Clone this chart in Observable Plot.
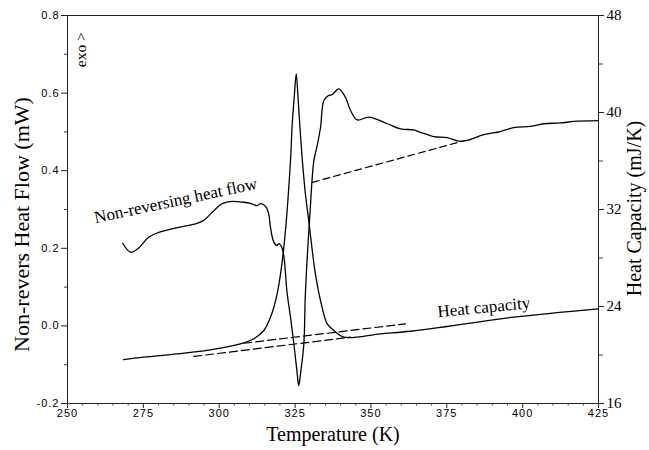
<!DOCTYPE html>
<html>
<head>
<meta charset="utf-8">
<script src="https://cdn.jsdelivr.net/npm/d3@7"></script>
<script src="https://cdn.jsdelivr.net/npm/@observablehq/plot@0.6"></script>
<style>
  html, body { margin: 0; padding: 0; background: #fff; }
  g[font-family^="Liberation Sans"] { letter-spacing: 1px; }
</style>
</head>
<body>
<div id="chart"></div>
<script>
// ---- data ----
// Non-reversing heat flow (left axis, mW)
const nrT = [268.2,270.8,273.5,276.8,280.1,283.4,287.8,292.2,294.9,297.7,301.0,304.3,307.6,310.3,312.5,313.6,315.3,316.3,316.9,318.0,319.1,319.6,320.8,322.4,323.5,324.6,325.7,326.2,326.8,327.9,328.4,329.9,331.2,332.3,333.4,334.5,336.1,337.2,339.4,341.6,343.3,345.5,349.3,355.4,359.7,364.1,366.3,370.7,375.1,379.0,381.7,387.2,392.7,397.1,402.6,407.0,412.5,416.9,425.0];
const nrV = [0.213,0.190,0.201,0.229,0.241,0.248,0.256,0.263,0.272,0.293,0.315,0.321,0.319,0.316,0.310,0.315,0.308,0.289,0.254,0.216,0.207,0.212,0.199,0.083,0.022,-0.046,-0.123,-0.154,-0.123,-0.046,0.083,0.289,0.426,0.465,0.512,0.581,0.594,0.596,0.611,0.589,0.555,0.531,0.538,0.521,0.508,0.505,0.499,0.488,0.485,0.476,0.478,0.493,0.501,0.511,0.514,0.521,0.523,0.527,0.529];

// Heat capacity (right axis, mJ/K)
const cpT = [268.4,275.1,286.2,297.1,307.0,311.4,314.7,316.9,319.1,321.3,323.5,324.0,324.8,325.4,325.9,326.6,327.4,328.4,329.5,331.7,333.9,335.6,337.8,341.1,353.2,363.0,375.1,397.1,425.0];
const cpC = [19.61,19.82,20.10,20.43,20.92,21.34,22.02,23.12,25.05,28.89,36.04,38.79,41.54,43.19,41.54,38.79,36.04,33.3,31.09,26.69,23.94,22.57,22.02,21.47,21.75,21.96,22.35,23.12,23.81];

// dashed baselines
const baseNrT = [330.7, 380.1];  const baseNrV = [0.370, 0.476];   // left axis
const baseLoT = [291.6, 343.3];  const baseLoC = [19.88, 21.47];   // right axis
const baseHiT = [308.1, 361.4];  const baseHiC = [20.97, 22.57];   // right axis

// ticks
const xTicks = [250,275,300,325,350,375,400,425];
const xMinor = [255,260,265,270,280,285,290,295,305,310,315,320,330,335,340,345,355,360,365,370,380,385,390,395,405,410,415,420];
const yTicks = [-0.2,0.0,0.2,0.4,0.6,0.8];
const yMinor = [-0.1,0.1,0.3,0.5,0.7];
const cpTicks = [16,24,32,40,48];
const cpMinor = [20,28,36,44];

// texts
const xTitle = "Temperature (K)";
const yTitle = "Non-revers Heat Flow (mW)";
const y2Title = "Heat Capacity (mJ/K)";
const nrLabel = "Non-reversing heat flow";
const cpLabel = "Heat capacity";
const exoLabel = "exo >";

// ---- mapping of the right axis onto the left scale ----
const cpLo = 16, cpHi = 48, vLo = -0.2, vHi = 0.8;
const toLeft = c => vLo + (c - cpLo) / (cpHi - cpLo) * (vHi - vLo);
const fromLeft = v => cpLo + (v - vLo) / (vHi - vLo) * (cpHi - cpLo);

const nrData = nrT.map((t, i) => ({t, v: nrV[i]}));
const cpData = cpT.map((t, i) => ({t, v: toLeft(cpC[i])}));
const dashNr = baseNrT.map((t, i) => ({t, v: baseNrV[i]}));
const dashLo = baseLoT.map((t, i) => ({t, v: toLeft(baseLoC[i])}));
const dashHi = baseHiT.map((t, i) => ({t, v: toLeft(baseHiC[i])}));

const sans = "Liberation Sans, Arial, sans-serif";
const serif = "Liberation Serif, Times New Roman, serif";
const blank = () => "";

const chart = Plot.plot({
  width: 649,
  height: 450,
  marginLeft: 67,
  marginRight: 51,
  marginTop: 15,
  marginBottom: 47,
  style: {background: "#fff", color: "#000", overflow: "visible"},
  x: {domain: [250, 425]},
  y: {domain: [-0.2, 0.8]},
  marks: [
    Plot.frame({stroke: "#222", strokeWidth: 1}),
    // axes
    Plot.axisX(xTicks, {tickSize: 5, tickPadding: 1, fontSize: 11, fontFamily: sans, label: null, stroke: "#222"}),
    Plot.axisX(xMinor, {tickSize: 2.5, tickFormat: blank, label: null, stroke: "#444"}),
    Plot.axisY(yTicks, {anchor: "left", tickSize: 6, tickPadding: 2, fontSize: 11, fontFamily: sans, label: null, tickFormat: d => d.toFixed(1), stroke: "#222"}),
    Plot.axisY(yMinor, {anchor: "left", tickSize: 3, tickFormat: blank, label: null, stroke: "#444"}),
    Plot.axisY(cpTicks.map(toLeft), {anchor: "right", tickSize: 5, tickPadding: 3, fontSize: 15, fontFamily: serif, label: null, tickFormat: d => String(Math.round(fromLeft(d))), stroke: "#222"}),
    Plot.axisY(cpMinor.map(toLeft), {anchor: "right", tickSize: 4, tickFormat: blank, label: null, stroke: "#444"}),
    // curves
    Plot.line(nrData, {x: "t", y: "v", curve: "catmull-rom", stroke: "#000", strokeWidth: 1.3}),
    Plot.line(cpData, {x: "t", y: "v", curve: "catmull-rom", stroke: "#000", strokeWidth: 1.3}),
    Plot.line(dashNr, {x: "t", y: "v", stroke: "#000", strokeWidth: 1.2, strokeDasharray: "7,4"}),
    Plot.line(dashLo, {x: "t", y: "v", stroke: "#000", strokeWidth: 1.2, strokeDasharray: "8,4"}),
    Plot.line(dashHi, {x: "t", y: "v", stroke: "#000", strokeWidth: 1.2, strokeDasharray: "8,4"}),
    // annotations
    Plot.text([0], {x: 285.6, y: 0.323, text: () => nrLabel, rotate: -12, fontSize: 17, fontFamily: serif, fill: "#000"}),
    Plot.text([0], {x: 387.2, y: 0.048, text: () => cpLabel, rotate: -5.5, fontSize: 17, fontFamily: serif, fill: "#000"}),
    Plot.text([0], {x: 254.4, y: 0.712, text: () => exoLabel, rotate: -90, fontSize: 15.5, fontFamily: serif, fill: "#000"}),
    // axis titles
    Plot.text([0], {frameAnchor: "left", textAnchor: "middle", lineAnchor: "middle", dx: -46, dy: 15, text: () => yTitle, rotate: -90, fontSize: 22, fontFamily: serif, fill: "#000"}),
    Plot.text([0], {frameAnchor: "right", textAnchor: "middle", lineAnchor: "middle", dx: 36, dy: -1, text: () => y2Title, rotate: -90, fontSize: 20, fontFamily: serif, fill: "#000"}),
    Plot.text([0], {frameAnchor: "bottom", textAnchor: "middle", lineAnchor: "middle", dy: 31, text: () => xTitle, fontSize: 20, fontFamily: serif, fill: "#000"})
  ]
});
document.getElementById("chart").appendChild(chart);
</script>
</body>
</html>
